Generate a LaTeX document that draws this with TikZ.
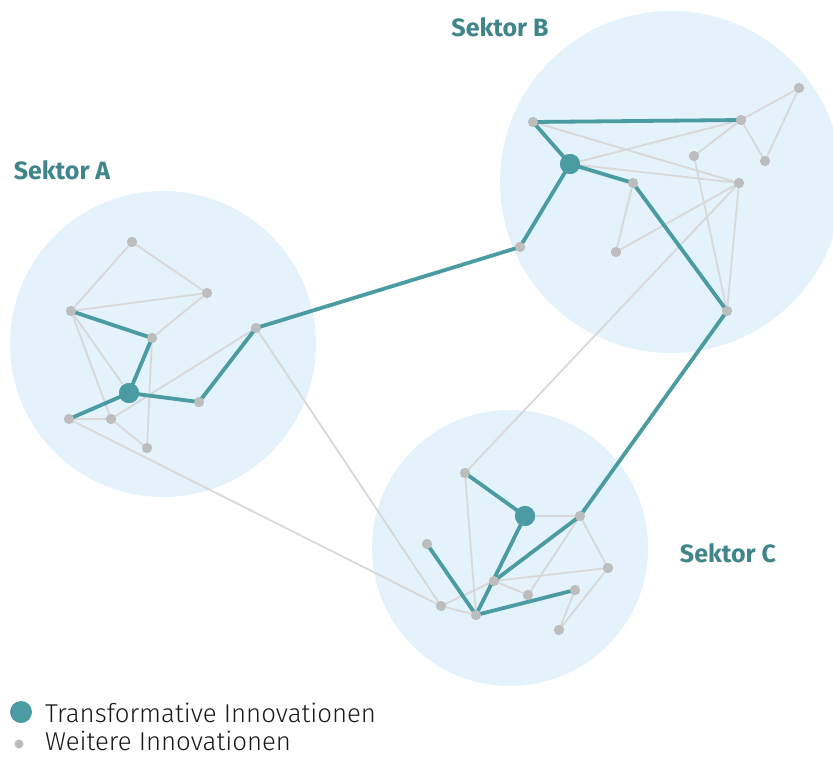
\documentclass[tikz,border=0pt]{standalone}
\usepackage{fontspec}
\setmainfont{Fira Sans}
\newfontfamily\lightfont{Fira Sans}[UprightFont=* Light]
\definecolor{teal1}{HTML}{4A9CA2}
\definecolor{sky}{HTML}{E4F2FB}
\definecolor{gnode}{HTML}{BDBDBE}
\definecolor{gedge}{HTML}{D8D8D8}
\tikzset{
  gn/.style={circle,fill=gnode,inner sep=0pt,minimum size=10pt},
  tn/.style={circle,fill=teal1,inner sep=0pt,minimum size=20pt},
  ge/.style={draw=gedge,line width=1.8pt},
  te/.style={draw=teal1,line width=3.8pt},
  slabel/.style={font=\bfseries\fontsize{25}{28}\selectfont,text=teal1!85!black},
  legtext/.style={font=\lightfont\fontsize{25.8}{29}\selectfont,text=black!90,anchor=base west,inner sep=0pt}
}
\begin{document}
\begin{tikzpicture}[x=1pt,y=-1pt]
\useasboundingbox (0,0) rectangle (833,756);
% sector circles
\fill[sky] (163,344) circle (153);
\fill[sky] (671,182) circle (171);
\fill[sky] (510,548) circle (138);
% nodes Sektor A
\node[gn] (A1) at (132,242) {};
\node[gn] (A2) at (207,293) {};
\node[gn] (A3) at (71,311) {};
\node[gn] (A4) at (152,338) {};
\node[tn] (AT) at (129,393) {};
\node[gn] (A5) at (199,402) {};
\node[gn] (A6) at (256,328) {};
\node[gn] (A7) at (69,419) {};
\node[gn] (A8) at (111,419) {};
\node[gn] (A9) at (147,448) {};
% nodes Sektor B
\node[gn] (B1) at (533,122) {};
\node[gn] (B2) at (741,120) {};
\node[gn] (B3) at (799,88) {};
\node[gn] (B4) at (694,156) {};
\node[gn] (B5) at (765,161) {};
\node[tn] (BT) at (570,164) {};
\node[gn] (B6) at (633,183) {};
\node[gn] (B7) at (739,183) {};
\node[gn] (B8) at (616,252) {};
\node[gn] (B9) at (520,247) {};
\node[gn] (B10) at (727,311) {};
% nodes Sektor C
\node[gn] (C1) at (465,473) {};
\node[tn] (CT) at (525,516) {};
\node[gn] (C2) at (580,516) {};
\node[gn] (C3) at (427,544) {};
\node[gn] (C4) at (608,568) {};
\node[gn] (C5) at (494,581) {};
\node[gn] (C6) at (528,595) {};
\node[gn] (C7) at (575,590) {};
\node[gn] (C8) at (441,606) {};
\node[gn] (C9) at (476,615) {};
\node[gn] (C10) at (559,630) {};
% gray edges
\path[ge] (A1.center) -- (A3.center) (A1.center) -- (A2.center) (A3.center) -- (A2.center)
  (A2.center) -- (A4.center) (A3.center) -- (AT.center) (A3.center) -- (A8.center)
  (A4.center) -- (A9.center) (A6.center) -- (A8.center) (A7.center) -- (A8.center)
  (A8.center) -- (A9.center) (A6.center) -- (C8.center) (A7.center) -- (C8.center);
\path[ge] (B2.center) -- (B3.center) (B3.center) -- (B5.center) (B2.center) -- (B5.center)
  (B2.center) -- (B4.center) (BT.center) -- (B2.center) (B1.center) -- (B7.center)
  (BT.center) -- (B7.center) (B6.center) -- (B8.center) (B8.center) -- (B7.center)
  (B7.center) -- (B10.center) (B4.center) -- (B10.center) (B7.center) -- (C1.center);
\path[ge] (CT.center) -- (C2.center) (C1.center) -- (C9.center) (C2.center) -- (C4.center)
  (C2.center) -- (C6.center) (C5.center) -- (C4.center) (C5.center) -- (C6.center)
  (C8.center) -- (C5.center) (C8.center) -- (C9.center) (C7.center) -- (C10.center)
  (C4.center) -- (C10.center);
% teal edges
\path[te] (A3.center) -- (A4.center) (A4.center) -- (AT.center) (AT.center) -- (A7.center)
  (AT.center) -- (A5.center) (A5.center) -- (A6.center) (A6.center) -- (B9.center);
\path[te] (B1.center) -- (B2.center) (B1.center) -- (BT.center) (BT.center) -- (B6.center)
  (B6.center) -- (B10.center) (BT.center) -- (B9.center) (B10.center) -- (C2.center);
\path[te] (C1.center) -- (CT.center) (CT.center) -- (C9.center) (C2.center) -- (C5.center)
  (C3.center) -- (C9.center) (C9.center) -- (C7.center);
% redraw nodes on top
\foreach \n in {A1,A2,A3,A4,A5,A6,A7,A8,A9,B1,B2,B3,B4,B5,B6,B7,B8,B9,B10,C1,C2,C3,C4,C5,C6,C7,C8,C9,C10}
  \fill[gnode] (\n.center) circle (5);
\foreach \n in {AT,BT,CT}
  \fill[teal1] (\n.center) circle (10);
% labels
\node[slabel] (LA) at (62,170) {Sektor A};
\node[slabel] (LB) at (500,27) {Sektor B};
\node[slabel] (LC) at (728,553) {Sektor C};
% legend
\node[tn,minimum size=22pt] (LT) at (21,712) {};
\node[gn,minimum size=9pt] (LW) at (19,744) {};
\node[legtext] (TT) at (45,722) {Transformative Innovationen};
\node[legtext] (TW) at (45,750) {Weitere Innovationen};
\end{tikzpicture}
\end{document}
